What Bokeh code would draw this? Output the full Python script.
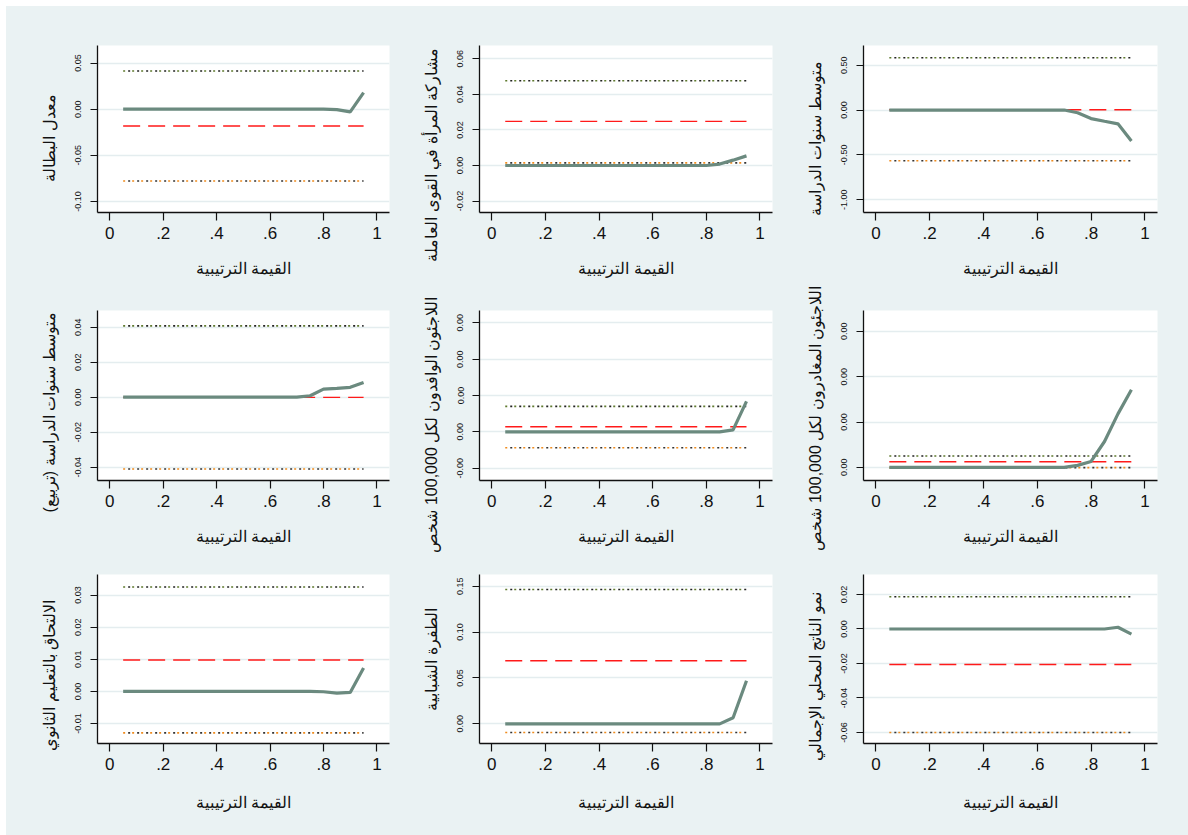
from bokeh.plotting import figure
from bokeh.layouts import column, row
from bokeh.models import FixedTicker, CustomJSTickFormatter, Title, Spacer, Range1d
from bokeh.embed import file_html
from bokeh.resources import INLINE

# Quantiles at which the regressions were estimated
quantiles = [0.05, 0.10, 0.15, 0.20, 0.25, 0.30, 0.35, 0.40, 0.45, 0.50,
             0.55, 0.60, 0.65, 0.70, 0.75, 0.80, 0.85, 0.90, 0.95]

x_ticks = [0, 0.2, 0.4, 0.6, 0.8, 1]
x_tick_labels = ["0", ".2", ".4", ".6", ".8", "1"]
x_title = "القيمة الترتيبية"

# Variable names (y-axis titles)
names = [
    "معدل البطالة",
    "مشاركة المرأة في القوى العاملة",
    "متوسط سنوات الدراسة",
    "متوسط سنوات الدراسة (تربيع)\u200f",
    "اللاجئون الوافدون لكل 100,000 شخص",
    "اللاجئون المغادرون لكل 100,000 شخص",
    "الالتحاق بالتعليم الثانوي",
    "الطفرة الشبابية",
    "نمو الناتج المحلي الإجمالي",
]

# Quantile-regression coefficients, one value per quantile
qr_unemployment = [0, 0, 0, 0, 0, 0, 0, 0, 0, 0, 0, 0, 0, 0, 0, 0, -0.0005, -0.003, 0.018]
qr_female_lfp = [0, 0, 0, 0, 0, 0, 0, 0, 0, 0, 0, 0, 0, 0, 0, 0, 0.0008, 0.003, 0.0054]
qr_schooling = [0, 0, 0, 0, 0, 0, 0, 0, 0, 0, 0, 0, 0, 0, -0.03, -0.095, -0.125, -0.154, -0.345]
qr_schooling_sq = [0, 0, 0, 0, 0, 0, 0, 0, 0, 0, 0, 0, 0, 0, 0.0008, 0.0046, 0.005, 0.0056, 0.0084]
qr_refugees_in = [0, 0, 0, 0, 0, 0, 0, 0, 0, 0, 0, 0, 0, 0, 0, 0, 0, 0.000055, 0.00084]
qr_refugees_out = [0, 0, 0, 0, 0, 0, 0, 0, 0, 0, 0, 0, 0, 0, 0.000044, 0.00013, 0.00057, 0.00118, 0.00171]
qr_secondary = [0, 0, 0, 0, 0, 0, 0, 0, 0, 0, 0, 0, 0, 0, 0, -0.0001, -0.0005, -0.0003, 0.0073]
qr_youth_bulge = [0, 0, 0, 0, 0, 0, 0, 0, 0, 0, 0, 0, 0, 0, 0, 0, 0, 0.0066, 0.047]
qr_gdp_growth = [0, 0, 0, 0, 0, 0, 0, 0, 0, 0, 0, 0, 0, 0, 0, 0, 0, 0.001, -0.003]

# OLS coefficient with its lower and upper confidence bounds
ols_coef = [-0.0182, 0.0248, 0.004, -0.0001, 0.00014, 0.000125, 0.0098, 0.0688, -0.0206]
ols_lower = [-0.0778, 0.0015, -0.565, -0.041, -0.00044, -0.000005, -0.0129, -0.0094, -0.0600]
ols_upper = [0.0414, 0.0476, 0.584, 0.0407, 0.0007, 0.00025, 0.0325, 0.1463, 0.0187]

# y-axis tick values per panel
y_ticks = [
    [-0.10, -0.05, 0.0, 0.05],
    [-0.02, 0.0, 0.02, 0.04, 0.06],
    [-1.0, -0.5, 0.0, 0.5],
    [-0.04, -0.02, 0.0, 0.02, 0.04],
    [-0.001, 0.0, 0.001, 0.002, 0.003],
    [0.0, 0.001, 0.002, 0.003],
    [-0.01, 0.0, 0.01, 0.02, 0.03],
    [0.0, 0.05, 0.10, 0.15],
    [-0.06, -0.04, -0.02, 0.0, 0.02],
]

qr_series = [qr_unemployment, qr_female_lfp, qr_schooling, qr_schooling_sq,
             qr_refugees_in, qr_refugees_out, qr_secondary, qr_youth_bulge, qr_gdp_growth]

# ---- layout / style settings ----
y_limits = [
    (-0.112, 0.069), (-0.0264, 0.0674), (-1.143, 0.72),
    (-0.0476, 0.0495), (-0.00134, 0.00334), (-0.00029, 0.00346),
    (-0.0162, 0.0364), (-0.0214, 0.1627), (-0.0664, 0.0316),
]
title_offsets = [31, -49, -3, -32, -72, -70, -7, 33, -17]

col_w = [390, 390, 402]
col_left = [91, 83, 77]
col_frame = [292, 293, 294]
row_h = [273, 289, 267]
row_top = [39, 31, 6]
row_frame = [169, 170, 169]

BG = "#eaf2f3"
FONT = "Liberation Sans"
INK = "#111111"


def make_panel(i):
    r, c = divmod(i, 3)
    p = figure(
        width=col_w[c], height=row_h[r],
        min_border_left=col_left[c],
        min_border_right=col_w[c] - col_left[c] - col_frame[c],
        min_border_top=row_top[r],
        min_border_bottom=row_h[r] - row_top[r] - row_frame[r],
        x_range=Range1d(-0.046, 1.047), y_range=Range1d(*y_limits[i]),
        output_backend="svg", toolbar_location=None,
        background_fill_color="white", border_fill_color=BG,
        outline_line_color=None,
    )
    p.xgrid.visible = False
    p.ygrid.grid_line_color = "#e4edef"
    p.ygrid.grid_line_width = 1.5

    q0, q1 = quantiles[0], quantiles[-1]
    # OLS confidence bounds (dotted) and estimate (dashed)
    p.line([q0, q1], [ols_upper[i]] * 2, color="#5f7a2e", line_width=1.6, line_dash="2 7")
    p.line([q0, q1], [ols_upper[i]] * 2, color="#222222", line_width=1.6, line_dash="2 7",
           line_dash_offset=4)
    p.line([q0, q1], [ols_lower[i]] * 2, color="#f08c1e", line_width=1.6, line_dash="2 7")
    p.line([q0, q1], [ols_lower[i]] * 2, color="#333333", line_width=1.6, line_dash="2 7",
           line_dash_offset=4)
    p.line([q0, q1], [ols_coef[i]] * 2, color="#ff1a1a", line_width=1.4, line_dash="17 8")
    # quantile regression estimates
    p.line(quantiles, qr_series[i], color="#6b8a7f", line_width=3.2)

    xa = p.xaxis[0]
    xa.ticker = FixedTicker(ticks=x_ticks)
    xa.major_label_overrides = dict(zip(x_ticks, x_tick_labels))
    xa.minor_tick_line_color = None
    xa.major_tick_out = 8
    xa.major_tick_in = 0
    xa.major_label_standoff = 6
    xa.major_label_text_font = FONT
    xa.major_label_text_font_size = "17px"
    xa.major_label_text_color = INK
    xa.axis_label = x_title
    xa.axis_label_text_font = FONT
    xa.axis_label_text_font_size = "16px"
    xa.axis_label_text_font_style = "normal"
    xa.axis_label_text_color = INK
    xa.axis_label_standoff = 18 if r < 2 else 21
    xa.axis_line_color = INK
    xa.axis_line_width = 1.3
    xa.major_tick_line_color = INK
    xa.major_tick_line_width = 1.2

    ya = p.yaxis[0]
    ya.ticker = FixedTicker(ticks=y_ticks[i])
    ya.formatter = CustomJSTickFormatter(code="return tick.toFixed(2);")
    ya.major_label_orientation = "vertical"
    ya.minor_tick_line_color = None
    ya.major_tick_out = 7
    ya.major_tick_in = 0
    ya.major_label_standoff = 9
    ya.major_label_text_font = FONT
    ya.major_label_text_font_size = "9px"
    ya.major_label_text_color = INK
    ya.axis_line_color = INK
    ya.axis_line_width = 1.3
    ya.major_tick_line_color = INK
    ya.major_tick_line_width = 1.2

    t = Title(text=names[i], align="left", offset=title_offsets[i],
              vertical_align="bottom", standoff=30,
              text_font=FONT, text_font_size="16px", text_font_style="normal",
              text_color=INK)
    p.add_layout(t, "left")
    return p


panels = [make_panel(i) for i in range(9)]
rows = [
    row([Spacer(width=6, height=row_h[r], styles={"background-color": "white"})]
        + panels[3 * r:3 * r + 3],
        styles={"background-color": BG})
    for r in range(3)
]
layout = column([Spacer(width=1188, height=6, styles={"background-color": "white"})] + rows,
                styles={"background-color": BG})

html = file_html(layout, INLINE)
html = html.replace("<body>", '<body style="margin:0;background-color:%s">' % BG, 1)
open("out.html", "w").write(html)
